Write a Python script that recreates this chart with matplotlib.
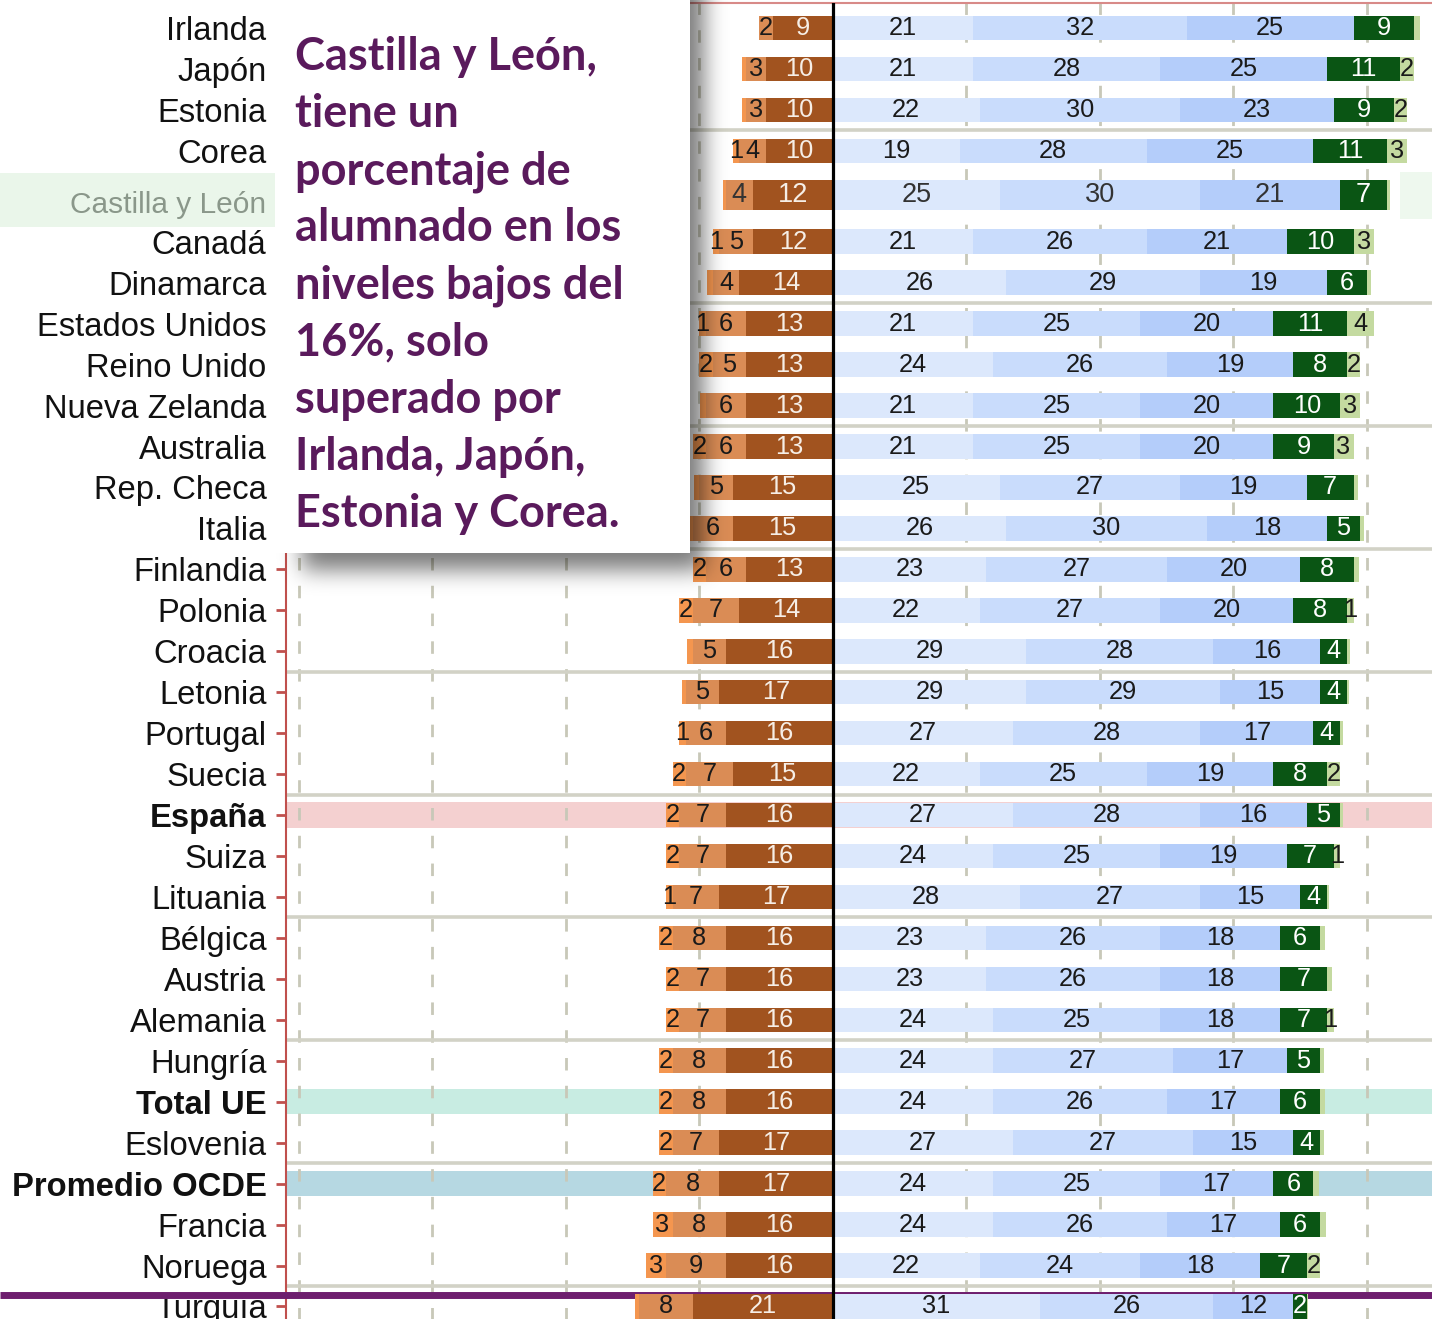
import numpy as np
import matplotlib
matplotlib.use("Agg")
import matplotlib.pyplot as plt
from matplotlib.patches import Rectangle

# ---------------- data ----------------
countries = ["Irlanda", "Japón", "Estonia", "Corea", "Castilla y León", "Canadá",
             "Dinamarca", "Estados Unidos", "Reino Unido", "Nueva Zelanda",
             "Australia", "Rep. Checa", "Italia", "Finlandia", "Polonia",
             "Croacia", "Letonia", "Portugal", "Suecia", "España", "Suiza",
             "Lituania", "Bélgica", "Austria", "Alemania", "Hungría", "Total UE",
             "Eslovenia", "Promedio OCDE", "Francia", "Noruega", "Turquía"]

below_1c = [0, 0.6, 0.6, 1, 0.5, 1, 0.8, 1, 2, 0.9, 2, 0.8, 0.7, 2, 2, 0.8,
            0.6, 1, 2, 2, 2, 1, 2, 2, 2, 2, 2, 2, 2, 3, 3, 0.6]
level_1b = [2, 3, 3, 4, 4, 5, 4, 6, 5, 6, 6, 5, 6, 6, 7, 5,
            5, 6, 7, 7, 7, 7, 8, 7, 7, 8, 8, 7, 8, 8, 9, 8]
level_1a = [9, 10, 10, 10, 12, 12, 14, 13, 13, 13, 13, 15, 15, 13, 14, 16,
            17, 16, 15, 16, 16, 17, 16, 16, 16, 16, 16, 17, 17, 16, 16, 21]
level_2 = [21, 21, 22, 19, 25, 21, 26, 21, 24, 21, 21, 25, 26, 23, 22, 29,
           29, 27, 22, 27, 24, 28, 23, 23, 24, 24, 24, 27, 24, 24, 22, 31]
level_3 = [32, 28, 30, 28, 30, 26, 29, 25, 26, 25, 25, 27, 30, 27, 27, 28,
           29, 28, 25, 28, 25, 27, 26, 26, 25, 27, 26, 27, 25, 26, 24, 26]
level_4 = [25, 25, 23, 25, 21, 21, 19, 20, 19, 20, 20, 19, 18, 20, 20, 16,
           15, 17, 19, 16, 19, 15, 18, 18, 18, 17, 17, 15, 17, 17, 18, 12]
level_5 = [9, 11, 9, 11, 7, 10, 6, 11, 8, 10, 9, 7, 5, 8, 8, 4,
           4, 4, 8, 5, 7, 4, 6, 7, 7, 5, 6, 4, 6, 6, 7, 2]
level_6 = [0.9, 2, 2, 3, 0.5, 3, 0.6, 4, 2, 3, 3, 0.7, 0.5, 0.8, 1, 0.5,
           0.3, 0.4, 2, 0.4, 1, 0.3, 0.7, 0.7, 1, 0.5, 0.7, 0.5, 0.8, 0.8, 2, 0.2]

bold_rows = ["España", "Total UE", "Promedio OCDE"]
highlight = {"España": "#F4D0D0", "Total UE": "#C8ECE2", "Promedio OCDE": "#B6D8E2"}
region_row = "Castilla y León"

callout = ["Castilla y León,", "tiene un", "porcentaje de", "alumnado en los",
           "niveles bajos del", "16%, solo", "superado por",
           "Irlanda, Japón,", "Estonia y Corea."]

# ---------------- style ----------------
C_B1C = "#F4964F"
C_1B = "#DA8C55"
C_1A = "#A1531F"
C_L2 = "#DCE8FC"
C_L3 = "#C9DCFC"
C_L4 = "#B4CDFA"
C_L5 = "#0A5514"
C_L6 = "#C4DAA0"
RED = "#C0504D"

W, H = 1432, 1319
fig = plt.figure(figsize=(W / 100, H / 100), dpi=100)

# y layout (rows), Castilla y León inserted with a little extra space
ypos = [0, 1, 2, 3, 4.07] + [5.22 + i for i in range(27)]
label_pos = list(ypos)
label_pos[4] = 4.25
y_top, y_bot = -0.6, 32.5
ppu = 40.95
top_px = 28 + y_top * ppu
bot_px = 28 + y_bot * ppu
ax = fig.add_axes([286 / W, (H - bot_px) / H, 1146 / W, (bot_px - top_px) / H])
ax.set_xlim(-81.9, 89.75)
ax.set_ylim(y_bot, y_top)

# grid lines
for gx in [-80, -60, -40, -20, 20, 40, 60, 80]:
    ax.axvline(gx, color="#C8C8B8", lw=2, ls=(0, (4.5, 5.5)), zorder=1)

# group separators
seps = [2.5] + [6.72 + 3 * i for i in range(9)]
ax.hlines(seps, -81.9, 89.75, color="#D2D2C6", lw=2.6, zorder=1.5)

# highlight bands
for name, col in highlight.items():
    i = countries.index(name)
    ax.add_patch(Rectangle((0, ypos[i] - 0.31), 1, 0.62, transform=ax.get_yaxis_transform(),
                           facecolor=col, edgecolor="none", zorder=0.5))
ri = countries.index(region_row)
ax.add_patch(Rectangle((-0.25, ypos[ri] - 0.53), 0.25, 1.32, transform=ax.get_yaxis_transform(),
                       facecolor="#EAF6EA", edgecolor="none", zorder=0.5, clip_on=False))
ax.add_patch(Rectangle((85, ypos[ri] - 0.55), 10, 1.15,
                       facecolor="#EEF8EE", edgecolor="none", zorder=0.5))

# purple line near the bottom
ax.plot([-0.25, 1.0], [30.94, 30.94], transform=ax.get_yaxis_transform(),
        color="#6E1E6E", lw=5, clip_on=False, zorder=2.6, solid_capstyle="butt")

heights = [0.73 if c == region_row else 0.6 for c in countries]
b1c = np.array(below_1c, float)
l1b = np.array(level_1b, float)
l1a = np.array(level_1a, float)


def draw_segments(lefts, widths, color, txtcolor):
    ax.barh(ypos, widths, left=lefts, height=heights, color=color, edgecolor="none", zorder=3)
    for c, y, l, w in zip(countries, ypos, lefts, widths):
        if abs(w) >= 1:
            fs = 19.5 if c == region_row else 18.3
            tc = "#333333" if (c == region_row and txtcolor == "#1A1A1A") else txtcolor
            ax.text(l + w / 2, y, f"{abs(w):.0f}", ha="center", va="center",
                    color=tc, zorder=5, family="Liberation Sans", fontsize=fs)


# left side (below level 2)
draw_segments(np.zeros(len(countries)), -l1a, C_1A, "#F6EEE6")
draw_segments(-l1a, -l1b, C_1B, "#1A1A1A")
draw_segments(-l1a - l1b, -b1c, C_B1C, "#1A1A1A")

# right side (level 2 and above)
left = np.zeros(len(countries))
for vals, col, tc in [(level_2, C_L2, "#1A1A1A"), (level_3, C_L3, "#1A1A1A"),
                      (level_4, C_L4, "#1A1A1A"), (level_5, C_L5, "#FFFFFF"),
                      (level_6, C_L6, "#1A1A1A")]:
    v = np.array(vals, float)
    draw_segments(left, v, col, tc)
    left = left + v

ax.axvline(0, color="black", lw=2.3, zorder=4)

# axes styling
for s in ["right", "bottom"]:
    ax.spines[s].set_visible(False)
ax.spines["left"].set_color(RED)
ax.spines["left"].set_linewidth(1.5)
ax.spines["top"].set_color("#D88A88")
ax.spines["top"].set_linewidth(1.5)
ax.set_xticks([])
ax.set_yticks(label_pos)
ax.set_yticklabels(countries)
ax.tick_params(axis="y", color=RED, length=7, width=2, pad=7)
for lab in ax.get_yticklabels():
    t = lab.get_text()
    lab.set_fontfamily("Liberation Sans")
    lab.set_fontsize(23.6)
    if t in bold_rows:
        lab.set_fontweight("bold")
    if t == region_row:
        lab.set_color("#8A978A")
        lab.set_fontsize(21.5)
    else:
        lab.set_color("#111111")

# ---------------- callout box overlay ----------------
ov = fig.add_axes([0, 0, 1, 1], zorder=10)
ov.set_xlim(0, W)
ov.set_ylim(H, 0)
ov.axis("off")
ov.patch.set_alpha(0)

# blurred shadow
X0, X1, Y0, Y1 = 240, 800, -80, 700
m = np.zeros((Y1 - Y0, X1 - X0))
m[(-80 - Y0):(570 - Y0), (302 - X0):(704 - X0)] = 1.0
sig = 11
kx = np.arange(-3 * sig, 3 * sig + 1)
k = np.exp(-kx ** 2 / (2 * sig ** 2))
k /= k.sum()
m = np.apply_along_axis(lambda v: np.convolve(v, k, mode="same"), 0, m)
m = np.apply_along_axis(lambda v: np.convolve(v, k, mode="same"), 1, m)
rgba = np.zeros(m.shape + (4,))
rgba[..., 3] = 0.52 * m
ov.imshow(rgba, extent=(X0, X1, Y1, Y0), origin="upper", zorder=1, interpolation="bilinear")
ov.set_xlim(0, W)
ov.set_ylim(H, 0)
ov.add_patch(Rectangle((275, -5), 415, 558, facecolor="white", edgecolor="none", zorder=2))
for j, line in enumerate(callout):
    ov.text(295, 70 + 57.1 * j, line, ha="left", va="baseline", color="#5A1A5C",
            fontsize=32.5, fontweight="bold", family="Lato", zorder=3)

fig.savefig("out.png", dpi=100)
